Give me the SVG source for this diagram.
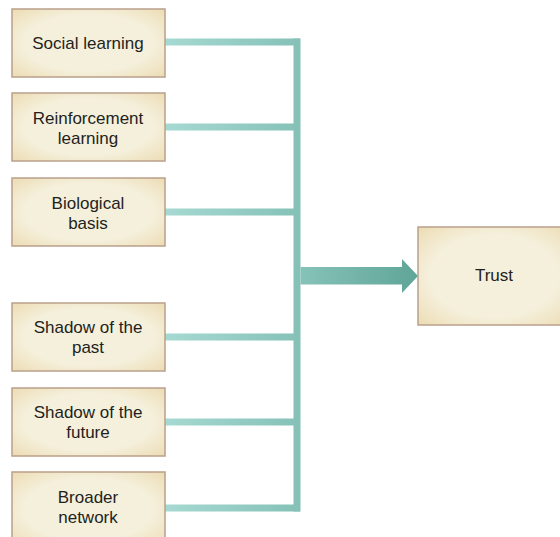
<svg xmlns="http://www.w3.org/2000/svg" width="560" height="537" viewBox="0 0 560 537">
<defs>
<radialGradient id="boxg" cx="50%" cy="50%" r="70%">
<stop offset="0.6" stop-color="#f5f0dc"/>
<stop offset="1" stop-color="#ecdcb4"/>
</radialGradient>
<linearGradient id="lineg" x1="165" y1="0" x2="300" y2="0" gradientUnits="userSpaceOnUse">
<stop offset="0" stop-color="#a6d9d1"/>
<stop offset="1" stop-color="#85c1b7"/>
</linearGradient>
<linearGradient id="arrg" x1="301" y1="0" x2="418" y2="0" gradientUnits="userSpaceOnUse">
<stop offset="0" stop-color="#86c2b8"/>
<stop offset="1" stop-color="#5fa598"/>
</linearGradient>
</defs>
<style>
.box{fill:url(#boxg);stroke:#b9a08a;stroke-width:1.5}
.t{font-family:"Liberation Sans","Open Sans",sans-serif;font-size:17px;fill:#231f20;text-anchor:middle}
.h{fill:none;stroke:url(#lineg);stroke-width:7}
.v{fill:none;stroke:#85c1b7;stroke-width:7}
</style>
<g id="connectors">
<line class="h" x1="165" y1="42" x2="300" y2="42"/>
<line class="h" x1="165" y1="127" x2="297" y2="127"/>
<line class="h" x1="165" y1="212" x2="297" y2="212"/>
<line class="h" x1="165" y1="337" x2="297" y2="337"/>
<line class="h" x1="165" y1="422" x2="297" y2="422"/>
<line class="h" x1="165" y1="508" x2="300" y2="508"/>
<line class="v" x1="297" y1="38.5" x2="297" y2="511.5"/>
<polygon points="300.5,267 402,267 402,259 418,276 402,293 402,284.5 300.5,284.5" fill="url(#arrg)"/>
</g>
<g id="n1"><rect class="box" x="12" y="9" width="153" height="68"/><text class="t" x="88" y="49">Social learning</text></g>
<g id="n2"><rect class="box" x="12" y="93" width="153" height="68"/><text class="t" x="88" y="124">Reinforcement</text><text class="t" x="88" y="144">learning</text></g>
<g id="n3"><rect class="box" x="12" y="178" width="153" height="68"/><text class="t" x="88" y="209">Biological</text><text class="t" x="88" y="229">basis</text></g>
<g id="n4"><rect class="box" x="12" y="303" width="153" height="68"/><text class="t" x="88" y="333">Shadow of the</text><text class="t" x="88" y="353">past</text></g>
<g id="n5"><rect class="box" x="12" y="388" width="153" height="68"/><text class="t" x="88" y="418">Shadow of the</text><text class="t" x="88" y="438">future</text></g>
<g id="n6"><rect class="box" x="12" y="472" width="153" height="75"/><text class="t" x="88" y="503">Broader</text><text class="t" x="88" y="523">network</text></g>
<g id="trust"><rect class="box" x="418" y="227" width="152" height="98"/><text class="t" x="494" y="281">Trust</text></g>
</svg>
